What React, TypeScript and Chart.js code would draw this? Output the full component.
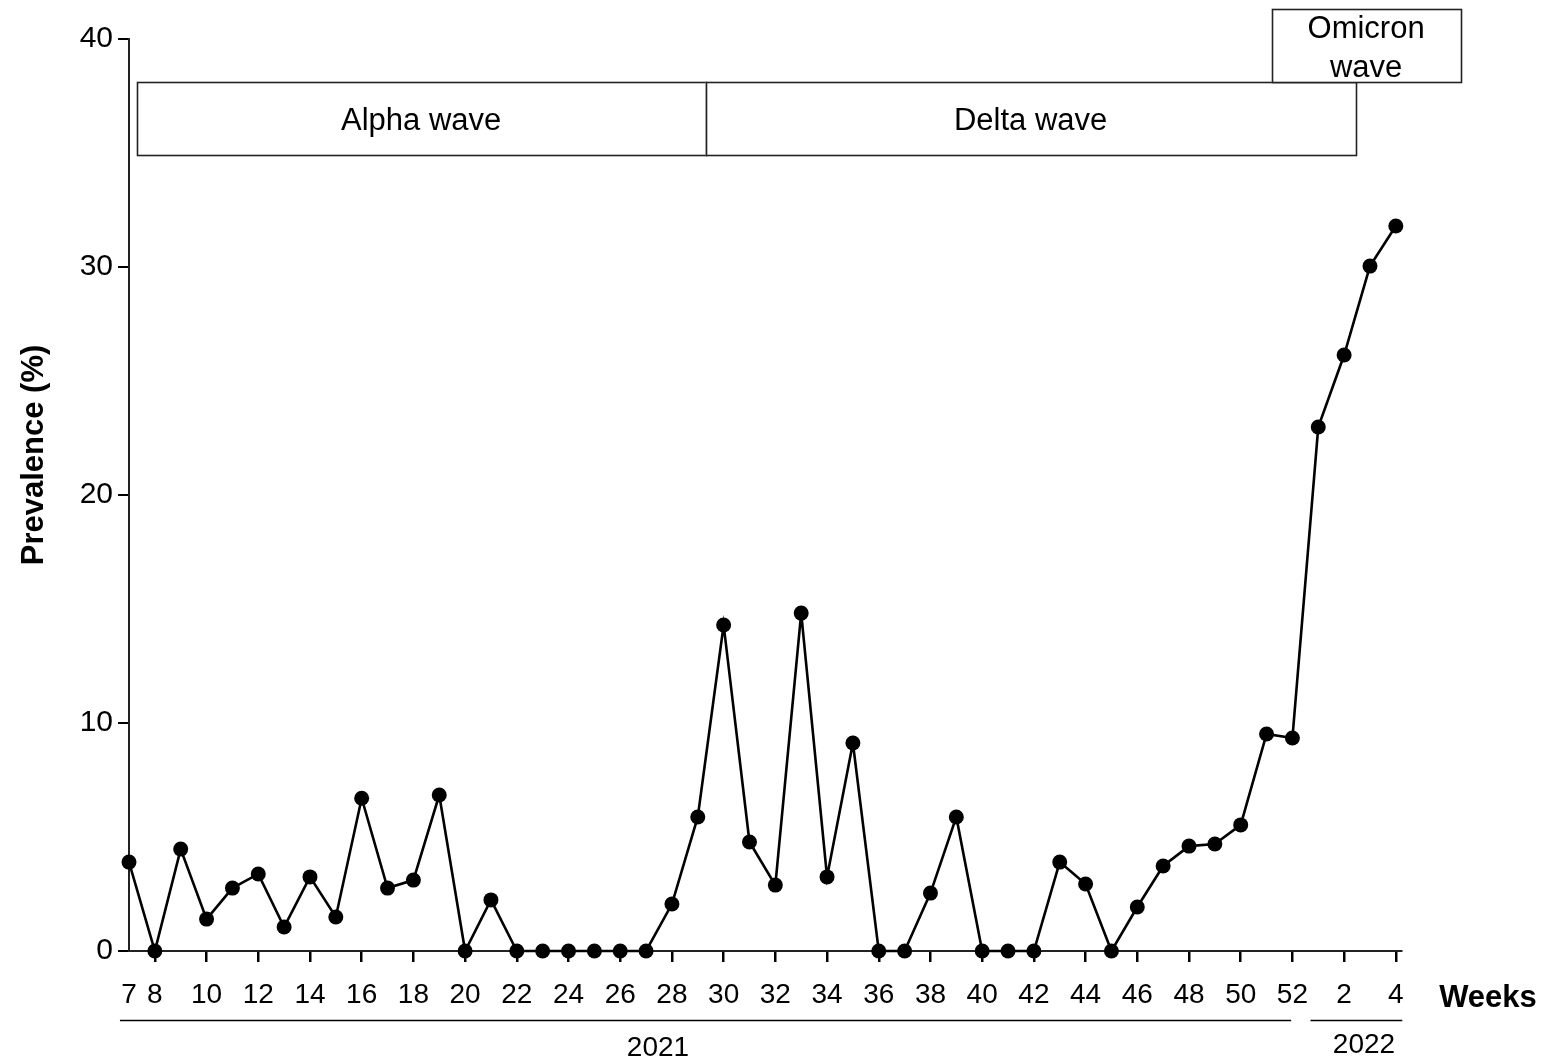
import React, { useEffect, useRef } from "react";
import { Chart, registerables } from "chart.js";

Chart.register(...registerables);

// Week categories (2021 weeks 7–52, then 2022 weeks 1–4)
const weeks = [
  "7", "8", "9", "10", "11", "12", "13", "14", "15", "16", "17", "18", "19", "20",
  "21", "22", "23", "24", "25", "26", "27", "28", "29", "30", "31", "32", "33", "34",
  "35", "36", "37", "38", "39", "40", "41", "42", "43", "44", "45", "46", "47", "48",
  "49", "50", "51", "52", "1", "2", "3", "4",
];

// Prevalence (%) per week
const prevalence = [
  3.9, 0, 4.47, 1.4, 2.76, 3.38, 1.05, 3.25, 1.49, 6.7, 2.76, 3.11, 6.84, 0,
  2.24, 0, 0, 0, 0, 0, 0, 2.06, 5.88, 14.3, 4.78, 2.89, 14.82, 3.25,
  9.12, 0, 0, 2.54, 5.88, 0, 0, 0, 3.9, 2.94, 0, 1.93, 3.73, 4.6,
  4.69, 5.53, 9.52, 9.34, 22.98, 26.14, 30.04, 31.8,
];

// Tick labels shown on the x axis
const xTickLabels = [
  "7", "8", "10", "12", "14", "16", "18", "20", "22", "24", "26", "28", "30", "32",
  "34", "36", "38", "40", "42", "44", "46", "48", "50", "52", "2", "4",
];

const yTicks = [0, 10, 20, 30, 40];

// Wave periods (in week-index units)
const waveNames = ["Alpha wave", "Delta wave", "Omicron\nwave"];
const waveStart = [0.3, 22.3, 44.2];
const waveEnd = [22.3, 47.45, 51.5];
const waveTop = [38.1, 38.1, 41.3];
const waveBottom = [34.9, 34.9, 38.1];

// Years and their spans (week-index units)
const yearLabels = ["2021", "2022"];
const yearStart = [-0.35, 45.7];
const yearEnd = [44.95, 49.25];

const FONT = "'Liberation Sans', Arial, Helvetica, sans-serif";

const overlayPlugin = {
  id: "overlay",
  afterDraw(chart: any) {
    const ctx = chart.ctx as CanvasRenderingContext2D;
    const xs = chart.scales.x;
    const ys = chart.scales.y;
    ctx.save();
    // wave boxes
    ctx.strokeStyle = "#222";
    ctx.lineWidth = 1.6;
    ctx.font = `31px ${FONT}`;
    ctx.textAlign = "center";
    ctx.textBaseline = "alphabetic";
    for (let i = 0; i < waveNames.length; i++) {
      const l = xs.getPixelForValue(waveStart[i]);
      const r = xs.getPixelForValue(waveEnd[i]);
      const t = ys.getPixelForValue(waveTop[i]);
      const b = ys.getPixelForValue(waveBottom[i]);
      ctx.fillStyle = "#fff";
      ctx.fillRect(l, t, r - l, b - t);
      ctx.strokeRect(Math.round(l) + 0.5, Math.round(t) + 0.5, Math.round(r - l), Math.round(b - t));
      ctx.fillStyle = "#000";
      const lines = waveNames[i].split("\n");
      const cx = (l + r) / 2;
      if (lines.length === 1) {
        ctx.fillText(lines[0], cx, (t + b) / 2 + 11);
      } else {
        ctx.fillText(lines[0], cx, t + 29);
        ctx.fillText(lines[1], cx, t + 68);
      }
    }
    // year lines
    ctx.strokeStyle = "#000";
    ctx.lineWidth = 1.5;
    ctx.font = `28px ${FONT}`;
    ctx.textBaseline = "middle";
    for (let i = 0; i < yearLabels.length; i++) {
      const l = xs.getPixelForValue(yearStart[i]);
      const r = xs.getPixelForValue(yearEnd[i]);
      const y = xs.bottom - 43.5;
      ctx.beginPath();
      ctx.moveTo(l, y);
      ctx.lineTo(r, y);
      ctx.stroke();
    }
    ctx.fillText(yearLabels[0], 658, 1048);
    ctx.fillText(yearLabels[1], 1364, 1045);
    // axis titles
    ctx.font = `bold 31px ${FONT}`;
    ctx.fillText("Weeks", 1488, 998);
    ctx.translate(43, 455);
    ctx.rotate(-Math.PI / 2);
    ctx.textBaseline = "alphabetic";
    ctx.fillText("Prevalence (%)", 0, 0);
    ctx.restore();
  },
};

export default function App() {
  const ref = useRef<HTMLCanvasElement>(null);
  useEffect(() => {
    if (!ref.current) return;
    const tickIdx = xTickLabels.map((lab) => weeks.indexOf(lab));
    const chart = new Chart(ref.current, {
      type: "line",
      data: {
        datasets: [
          {
            data: prevalence.map((v, i) => ({ x: i, y: v })),
            borderColor: "#000",
            borderWidth: 2.6,
            pointRadius: 7.5,
            pointHoverRadius: 7.5,
            pointBackgroundColor: "#000",
            pointBorderWidth: 0,
            tension: 0,
            clip: false as any,
          },
        ],
      },
      options: {
        responsive: false,
        animation: false,
        events: [],
        layout: { padding: { left: 0, top: 39, right: 144, bottom: 0 } },
        plugins: { legend: { display: false }, tooltip: { enabled: false } },
        scales: {
          x: {
            type: "linear",
            min: 0,
            max: 49.2,
            afterFit: (s: any) => {
              s.height = 113;
            },
            afterBuildTicks: (s: any) => {
              s.ticks = tickIdx.map((v) => ({ value: v }));
            },
            ticks: {
              autoSkip: false,
              maxRotation: 0,
              padding: 16,
              color: "#000",
              font: { family: FONT, size: 28 },
              callback: (v: any) => {
                const k = tickIdx.indexOf(Number(v));
                return k >= 0 ? xTickLabels[k] : "";
              },
            },
            grid: {
              display: true,
              drawOnChartArea: false,
              drawTicks: true,
              tickLength: 11,
              lineWidth: 2.5,
              color: (c: any) => (c.tick && c.tick.value === 0 ? "rgba(0,0,0,0)" : "#000"),
            },
            border: { display: true, color: "#222", width: 2 },
          },
          y: {
            type: "linear",
            min: 0,
            max: 40,
            afterFit: (s: any) => {
              s.width = 129;
            },
            afterBuildTicks: (s: any) => {
              s.ticks = yTicks.map((v) => ({ value: v }));
            },
            ticks: {
              padding: 5,
              color: "#000",
              font: { family: FONT, size: 30 },
            },
            grid: {
              display: true,
              drawOnChartArea: false,
              drawTicks: true,
              tickLength: 11,
              lineWidth: 2,
              color: "#000",
            },
            border: { display: true, color: "#222", width: 2 },
          },
        },
      },
      plugins: [overlayPlugin],
    });
    return () => chart.destroy();
  }, []);
  return (
    <div style={{ position: "absolute", left: 0, top: 0, width: 1545, height: 1064, background: "#fff" }}>
      <canvas ref={ref} width={1545} height={1064} style={{ display: "block" }} />
    </div>
  );
}
